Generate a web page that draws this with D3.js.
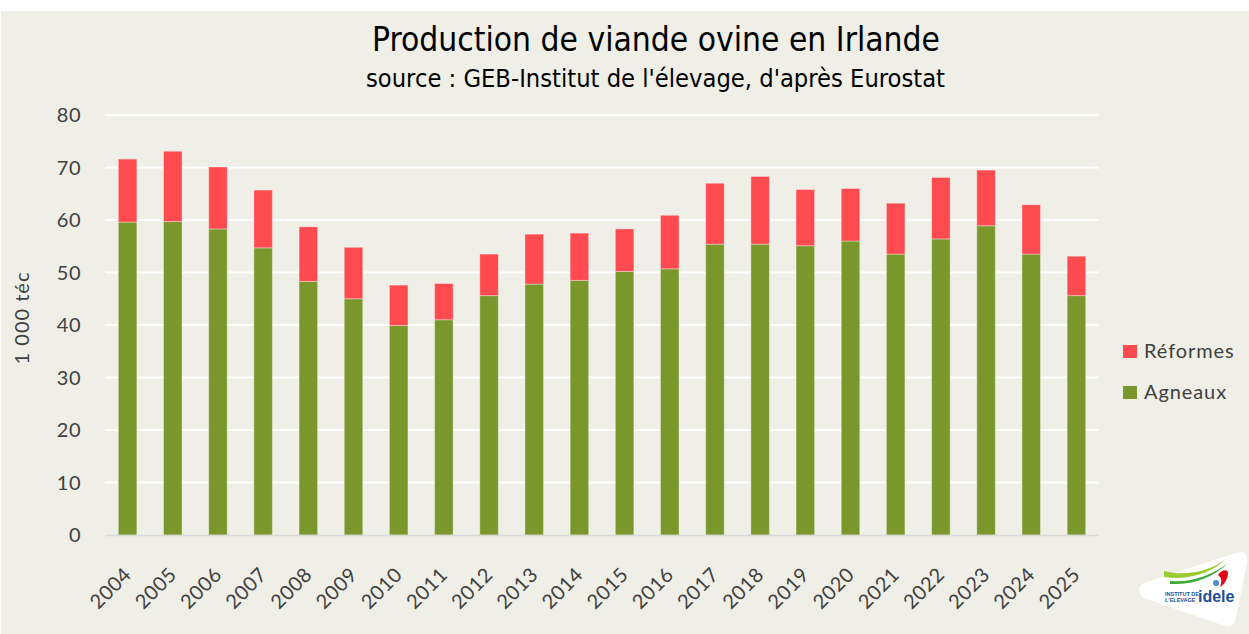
<!DOCTYPE html>
<html>
<head>
<meta charset="utf-8">
<script src="https://cdn.jsdelivr.net/npm/d3@7"></script>
<style>
  body { margin: 0; background: #ffffff; }
  svg { display: block; }
  .tick-label { font-family: Lato, "Noto Sans", sans-serif; fill: #404040; }
  .title { font-family: "Liberation Sans Narrow", "DejaVu Sans Condensed", sans-serif; font-stretch: condensed; fill: #000; }
</style>
</head>
<body>
<div id="chart"></div>
<script>
// data (1 000 téc)
var years = ["2004", "2005", "2006", "2007", "2008", "2009", "2010", "2011", "2012", "2013", "2014",
  "2015", "2016", "2017", "2018", "2019", "2020", "2021", "2022", "2023", "2024", "2025"];
var agneaux = [59.6, 59.7, 58.3, 54.7, 48.3, 45.0, 39.9, 41.0, 45.6, 47.8, 48.5,
  50.2, 50.7, 55.4, 55.4, 55.1, 56.0, 53.5, 56.4, 58.9, 53.5, 45.6];
var reformes = [12.0, 13.4, 11.8, 11.0, 10.4, 9.8, 7.7, 6.9, 7.9, 9.5, 9.0,
  8.1, 10.2, 11.6, 12.9, 10.7, 10.0, 9.7, 11.7, 10.6, 9.4, 7.5];
var seriesNames = ["Agneaux", "Réformes"];
var seriesColors = ["#7a972c", "#ff4b50"];
var yTicks = [0, 10, 20, 30, 40, 50, 60, 70, 80];

var width = 1249, height = 634;
var plot = { left: 105, right: 1099, top: 115, bottom: 535 };

var svg = d3.select("#chart").append("svg")
  .attr("width", width)
  .attr("height", height);

// chart background (white strip on top / left as in the export)
svg.append("rect")
  .attr("x", 1).attr("y", 11)
  .attr("width", width - 1).attr("height", height - 11)
  .attr("fill", "#efefe7");

var x = d3.scaleBand()
  .domain(years)
  .range([plot.left, plot.right])
  .paddingInner(0.59)
  .paddingOuter(0.295);

var y = d3.scaleLinear()
  .domain([0, 80])
  .range([plot.bottom, plot.top]);

// gridlines
svg.append("g")
  .selectAll("line")
  .data(yTicks.filter(function (d) { return d > 0; }))
  .enter()
  .append("line")
  .attr("x1", plot.left)
  .attr("x2", plot.right)
  .attr("y1", function (d) { return y(d); })
  .attr("y2", function (d) { return y(d); })
  .attr("stroke", "#ffffff")
  .attr("stroke-width", 2);

// y tick labels
svg.append("g")
  .selectAll("text")
  .data(yTicks)
  .enter()
  .append("text")
  .attr("class", "tick-label")
  .attr("x", 81)
  .attr("y", function (d) { return y(d); })
  .attr("dy", "0.35em")
  .attr("text-anchor", "end")
  .attr("font-size", 20)
  .attr("letter-spacing", 0.5)
  .text(function (d) { return d; });

// stacked bars
var table = years.map(function (yr, i) {
  return { year: yr, Agneaux: agneaux[i], "Réformes": reformes[i] };
});
var stacked = d3.stack().keys(seriesNames)(table);

svg.append("g")
  .selectAll("g")
  .data(stacked)
  .enter()
  .append("g")
  .attr("fill", function (d, i) { return seriesColors[i]; })
  .selectAll("rect")
  .data(function (d) { return d; })
  .enter()
  .append("rect")
  .attr("x", function (d) { return x(d.data.year); })
  .attr("width", x.bandwidth())
  .attr("y", function (d) { return y(d[1]); })
  .attr("height", function (d) { return y(d[0]) - y(d[1]); })
  .attr("stroke", "rgba(255,255,255,0.35)")
  .attr("stroke-width", 1);

// baseline
svg.append("line")
  .attr("x1", plot.left).attr("x2", plot.right)
  .attr("y1", y(0) + 0.5).attr("y2", y(0) + 0.5)
  .attr("stroke", "#d9d9d9")
  .attr("stroke-width", 1.5);

// x labels, rotated
svg.append("g")
  .selectAll("text")
  .data(years)
  .enter()
  .append("text")
  .attr("class", "tick-label")
  .attr("font-size", 20)
  .attr("letter-spacing", 0.5)
  .attr("text-anchor", "end")
  .attr("transform", function (d) {
    var cx = x(d) + x.bandwidth() / 2 + 5;
    return "translate(" + cx + "," + 576 + ") rotate(-45)";
  })
  .text(function (d) { return d; });

// y axis title
svg.append("text")
  .attr("class", "tick-label")
  .attr("font-size", 20)
  .attr("letter-spacing", 1)
  .attr("text-anchor", "middle")
  .attr("transform", "translate(29,318) rotate(-90)")
  .text("1 000 téc");

// titles
svg.append("text")
  .attr("class", "title")
  .attr("x", 372).attr("y", 51)
  .attr("font-size", 33)
  .attr("textLength", 568)
  .attr("lengthAdjust", "spacingAndGlyphs")
  .text("Production de viande ovine en Irlande");

svg.append("text")
  .attr("class", "title")
  .attr("x", 366).attr("y", 87)
  .attr("font-size", 24)
  .attr("textLength", 579)
  .attr("lengthAdjust", "spacingAndGlyphs")
  .text("source : GEB-Institut de l'élevage, d'après Eurostat");

// legend (Réformes on top)
var legend = svg.append("g")
  .selectAll("g")
  .data(seriesNames.slice().reverse())
  .enter()
  .append("g")
  .attr("transform", function (d, i) { return "translate(1123," + (345 + i * 41) + ")"; });

legend.append("rect")
  .attr("width", 14).attr("height", 13)
  .attr("fill", function (d) { return seriesColors[seriesNames.indexOf(d)]; });

legend.append("text")
  .attr("class", "tick-label")
  .attr("x", 21).attr("y", 6)
  .attr("dy", "0.35em")
  .attr("font-size", 20)
  .attr("letter-spacing", 0.9)
  .text(function (d) { return d; });

// logo badge, bottom right
var logo = svg.append("g").attr("transform", "translate(1130,545)");
logo.append("path")
  .attr("d", "M14,38 Q4,45 14,53 L92,80 Q104,85 106,72 L117,18 Q119,4 106,8 Z")
  .attr("fill", "#ffffff");
logo.append("path")
  .attr("d", "M34,26 C56,32 80,26 96,14 C84,26 62,36 34,32 Z")
  .attr("fill", "#9acd32");
logo.append("path")
  .attr("d", "M40,36 C62,38 82,30 98,18 C84,32 64,40 40,39 Z")
  .attr("fill", "#3aa935");
logo.append("path")
  .attr("d", "M88,30 C92,24 98,24 98,28 C98,34 94,40 90,42 C92,36 92,33 88,30 Z")
  .attr("fill", "#e30613");
logo.append("circle")
  .attr("cx", 86).attr("cy", 38).attr("r", 3)
  .attr("fill", "#4a8fd0");
logo.append("text")
  .attr("x", 35).attr("y", 51)
  .attr("font-family", "Liberation Sans Narrow, sans-serif")
  .attr("font-size", 5.5).attr("font-weight", "bold")
  .attr("fill", "#1d4f91")
  .text("INSTITUT DE");
logo.append("text")
  .attr("x", 35).attr("y", 57)
  .attr("font-family", "Liberation Sans Narrow, sans-serif")
  .attr("font-size", 5.5).attr("font-weight", "bold")
  .attr("fill", "#1d4f91")
  .text("L'ELEVAGE");
logo.append("text")
  .attr("x", 68).attr("y", 57)
  .attr("font-family", "Liberation Sans Narrow, sans-serif")
  .attr("font-size", 16).attr("font-weight", "bold")
  .attr("fill", "#1d4f91")
  .text("idele");
</script>
</body>
</html>
